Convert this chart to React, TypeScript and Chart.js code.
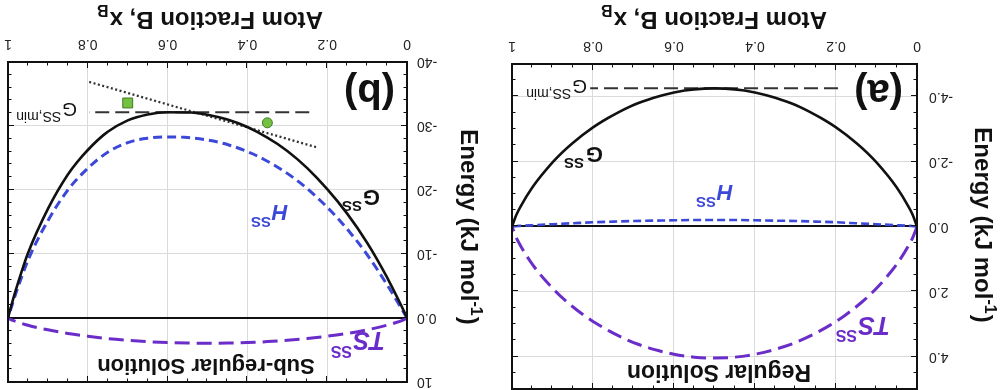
import React, { useEffect, useRef } from "react";
import { Chart, registerables } from "chart.js";

Chart.register(...registerables);

// ---------- data ----------
const xB = [0, 0.01, 0.02, 0.05, 0.1, 0.15, 0.2, 0.25, 0.3, 0.35, 0.4, 0.45, 0.5, 0.55, 0.6, 0.65, 0.7, 0.75, 0.8, 0.85, 0.9, 0.95, 0.98, 0.99, 1];

// (a) Regular solution, kJ/mol
const gRegular = [0, -0.34, -0.59, -1.2, -1.97, -2.57, -3.05, -3.43, -3.74, -3.96, -4.12, -4.22, -4.25, -4.22, -4.12, -3.96, -3.74, -3.43, -3.05, -2.57, -1.97, -1.2, -0.59, -0.34, 0];
const hRegular = [0, -0.01, -0.02, -0.04, -0.07, -0.1, -0.13, -0.15, -0.17, -0.18, -0.19, -0.2, -0.2, -0.2, -0.19, -0.18, -0.17, -0.15, -0.13, -0.1, -0.07, -0.04, -0.02, -0.01, 0];
const tsRegular = [0, 0.33, 0.57, 1.16, 1.9, 2.47, 2.92, 3.28, 3.57, 3.78, 3.93, 4.02, 4.05, 4.02, 3.93, 3.78, 3.57, 3.28, 2.92, 2.47, 1.9, 1.16, 0.57, 0.33, 0];
const gMinRegular = -4.25;
const gMinRegularRange = [0.195, 0.807];

// (b) Sub-regular solution, kJ/mol
const gSub = [0, -1.37, -2.66, -6.33, -11.75, -16.31, -20.15, -23.41, -26.08, -28.19, -29.84, -31.02, -31.75, -32.12, -32.14, -31.79, -30.88, -29.11, -26.25, -22.41, -17.05, -10.13, -4.46, -2.32, 0];
const hSub = [0, -1.05, -2.1, -5.2, -9.9, -13.9, -17.3, -20.2, -22.6, -24.5, -26.0, -27.1, -27.8, -28.2, -28.3, -28.1, -27.4, -25.9, -23.4, -20.0, -15.2, -9.0, -3.9, -2.0, 0];
const tsSub = [0, 0.32, 0.56, 1.13, 1.85, 2.41, 2.85, 3.21, 3.48, 3.69, 3.84, 3.92, 3.95, 3.92, 3.84, 3.69, 3.48, 3.21, 2.85, 2.41, 1.85, 1.13, 0.56, 0.32, 0];
const gMinSub = -32.15;
const gMinSubRange = [0.245, 0.797];
const tangentX = [0.228, 0.797];
const tangentY = [-26.7, -36.9];
const squarePoint = { x: 0.7, y: -33.6 };
const circlePoint = { x: 0.35, y: -30.5 };

// ticks
const xTicks = [0, 0.2, 0.4, 0.6, 0.8, 1];
const xTickLabels = ["0", "0.2", "0.4", "0.6", "0.8", "1"];
const yTicksRegular = [-4, -2, 0, 2, 4];
const yTickLabelsRegular = ["-4.0", "-2.0", "0.0", "2.0", "4.0"];
const yTicksSub = [-40, -30, -20, -10, 0, 10];
const yTickLabelsSub = ["-40", "-30", "-20", "-10", "0.0", "10"];

// ---------- styles ----------
const FONT = '"Liberation Sans", Arial, Helvetica, sans-serif';
const BLUE = "#3b48d8";
const PURPLE = "#6a2dc9";
const GRID = "#dadada";

const pts = (ys: number[]) => xB.map((x, i) => ({ x, y: ys[i] }));

type Part = { t: string; font: string; dx?: number; dy?: number };
function rich(ctx: CanvasRenderingContext2D, parts: Part[], x: number, y: number, color: string) {
  ctx.save();
  ctx.fillStyle = color;
  ctx.textBaseline = "alphabetic";
  ctx.textAlign = "left";
  let cx = x;
  for (const p of parts) {
    ctx.font = p.font;
    cx += p.dx || 0;
    ctx.fillText(p.t, cx, y + (p.dy || 0));
    cx += ctx.measureText(p.t).width;
  }
  ctx.restore();
}
function richWidth(ctx: CanvasRenderingContext2D, parts: Part[]) {
  let w = 0;
  ctx.save();
  for (const p of parts) {
    ctx.font = p.font;
    w += (p.dx || 0) + ctx.measureText(p.t).width;
  }
  ctx.restore();
  return w;
}

function drawFrame(chart: any, xStep: number, yStep: number, xMajor: number[], yMajor: number[]) {
  const { ctx, chartArea } = chart;
  const { left, right, top, bottom } = chartArea;
  const xs = chart.scales.x;
  const ys = chart.scales.y;
  ctx.save();
  ctx.strokeStyle = "#111";
  ctx.lineWidth = 1;
  ctx.beginPath();
  const nx = Math.round((xs.max - xs.min) / xStep);
  for (let i = 1; i < nx; i++) {
    const v = xs.min + i * xStep;
    const major = xMajor.some((m) => Math.abs(m - v) < 1e-6);
    const len = major ? 6 : 3.5;
    const px = Math.round(xs.getPixelForValue(v)) + 0.5;
    ctx.moveTo(px, bottom);
    ctx.lineTo(px, bottom - len);
    ctx.moveTo(px, top);
    ctx.lineTo(px, top + len);
  }
  const ny = Math.round((ys.max - ys.min) / yStep);
  for (let i = 1; i < ny; i++) {
    const v = ys.min + i * yStep;
    const major = yMajor.some((m) => Math.abs(m - v) < 1e-6);
    const len = major ? 6 : 3.5;
    const py = Math.round(ys.getPixelForValue(v)) + 0.5;
    ctx.moveTo(left, py);
    ctx.lineTo(left + len, py);
    ctx.moveTo(right, py);
    ctx.lineTo(right - len, py);
  }
  ctx.stroke();
  ctx.lineWidth = 2;
  ctx.strokeRect(left, top, right - left, bottom - top);
  ctx.restore();
}

function drawXTitle(ctx: CanvasRenderingContext2D, cx: number, baseline: number) {
  const parts: Part[] = [
    { t: "Atom Fraction B, x", font: `bold 24px ${FONT}` },
    { t: "B", font: `bold 16px ${FONT}`, dx: 1, dy: 7 },
  ];
  const w = richWidth(ctx, parts);
  rich(ctx, parts, cx - w / 2, baseline, "#111");
}

function drawYTitle(ctx: CanvasRenderingContext2D, cx: number, cy: number) {
  const parts: Part[] = [
    { t: "Energy (kJ mol", font: `bold 24px ${FONT}` },
    { t: "-1", font: `bold 16px ${FONT}`, dy: -10 },
    { t: ")", font: `bold 24px ${FONT}`, dx: 1 },
  ];
  const w = richWidth(ctx, parts);
  ctx.save();
  ctx.translate(cx, cy);
  ctx.rotate(-Math.PI / 2);
  rich(ctx, parts, -w / 2, 8, "#111");
  ctx.restore();
}

function baseOptions(opts: any) {
  return {
    animation: false,
    responsive: false,
    layout: { padding: opts.padding },
    plugins: { legend: { display: false }, tooltip: { enabled: false } },
    elements: { point: { radius: 0 }, line: { tension: 0 } },
    scales: {
      x: {
        type: "linear",
        min: 0,
        max: 1,
        afterBuildTicks: (s: any) => {
          s.ticks = xTicks.map((v) => ({ value: v }));
        },
        afterFit: (s: any) => {
          s.height = opts.xHeight;
          s.paddingLeft = 0;
          s.paddingRight = 0;
        },
        ticks: {
          autoSkip: false,
          maxRotation: 0,
          padding: 10,
          color: "#222",
          font: { family: FONT, size: 14 },
          callback: (_v: any, i: number) => xTickLabels[i],
        },
        grid: { color: GRID, lineWidth: 1, drawTicks: false },
        border: { display: false },
      },
      y: {
        type: "linear",
        min: opts.yMin,
        max: opts.yMax,
        afterBuildTicks: (s: any) => {
          s.ticks = opts.yTicks.map((v: number) => ({ value: v }));
        },
        afterFit: (s: any) => {
          s.width = opts.yWidth;
          s.paddingTop = 0;
          s.paddingBottom = 0;
        },
        ticks: {
          autoSkip: false,
          padding: opts.yPad,
          color: "#222",
          font: { family: FONT, size: 14 },
          callback: (_v: any, i: number) => opts.yLabels[i],
        },
        grid: {
          color: (c: any) => (c.tick && c.tick.value === 0 ? "#111" : GRID),
          lineWidth: (c: any) => (c.tick && c.tick.value === 0 ? 2 : 1),
          drawTicks: false,
        },
        border: { display: false },
      },
    },
  };
}

function configRegular(): any {
  return {
    type: "line",
    data: {
      datasets: [
        { data: pts(gRegular), borderColor: "#111", borderWidth: 2.6, cubicInterpolationMode: "monotone" },
        { data: pts(hRegular), borderColor: BLUE, borderWidth: 2.6, borderDash: [8, 4], cubicInterpolationMode: "monotone" },
        { data: pts(tsRegular), borderColor: PURPLE, borderWidth: 3, borderDash: [15, 7], cubicInterpolationMode: "monotone" },
        {
          data: gMinRegularRange.map((x) => ({ x, y: gMinRegular })),
          borderColor: "#333",
          borderWidth: 2,
          borderDash: [14, 6],
        },
      ],
    },
    options: baseOptions({
      padding: { left: 0, right: 10, top: 1, bottom: 0 },
      xHeight: 64,
      yWidth: 85,
      yPad: 12,
      yMin: -5,
      yMax: 5,
      yTicks: yTicksRegular,
      yLabels: yTickLabelsRegular,
    }),
    plugins: [
      {
        id: "decorA",
        afterDraw(chart: any) {
          const ctx = chart.ctx as CanvasRenderingContext2D;
          drawFrame(chart, 0.05, 0.5, xTicks, yTicksRegular);
          rich(ctx, [{ t: "(a)", font: `bold 40px ${FONT}` }], 99, 310, "#111");
          ctx.save();
          ctx.font = `bold 23px ${FONT}`;
          ctx.fillStyle = "#111";
          ctx.textAlign = "center";
          ctx.fillText("Regular Solution", 283, 25);
          ctx.restore();
          rich(ctx, [
            { t: "G", font: `bold 22px ${FONT}` },
            { t: "SS", font: `bold 15px ${FONT}`, dx: 2, dy: -11 },
          ], 399, 243, "#111");
          rich(ctx, [
            { t: "H", font: `italic bold 22px ${FONT}` },
            { t: "SS", font: `bold 15px ${FONT}`, dx: 1, dy: -12 },
          ], 269, 205, BLUE);
          rich(ctx, [
            { t: "TS", font: `italic bold 25px ${FONT}` },
            { t: "SS", font: `bold 16px ${FONT}`, dx: 1, dy: -13 },
          ], 112, 73, PURPLE);
          rich(ctx, [
            { t: "G", font: `19px ${FONT}` },
            { t: "SS,min", font: `14px ${FONT}`, dx: 1, dy: -9 },
          ], 415, 310, "#111");
          drawXTitle(ctx, 288, 378);
          drawYTitle(ctx, 19, 165);
        },
      },
    ],
  };
}

function configSub(): any {
  return {
    type: "line",
    data: {
      datasets: [
        { data: pts(gSub), borderColor: "#111", borderWidth: 2.6, cubicInterpolationMode: "monotone" },
        { data: pts(hSub), borderColor: BLUE, borderWidth: 3, borderDash: [9, 5], cubicInterpolationMode: "monotone" },
        { data: pts(tsSub), borderColor: PURPLE, borderWidth: 3, borderDash: [15, 7], cubicInterpolationMode: "monotone" },
        {
          data: gMinSubRange.map((x) => ({ x, y: gMinSub })),
          borderColor: "#333",
          borderWidth: 2,
          borderDash: [14, 6],
        },
        {
          data: tangentX.map((x, i) => ({ x, y: tangentY[i] })),
          borderColor: "#333",
          borderWidth: 2.2,
          borderDash: [2, 2.5],
        },
        {
          data: [squarePoint],
          showLine: false,
          pointStyle: "rect",
          pointRadius: 7,
          backgroundColor: "#74c043",
          borderColor: "#3d7d1e",
          borderWidth: 1,
        },
        {
          data: [circlePoint],
          showLine: false,
          pointStyle: "circle",
          pointRadius: 5,
          backgroundColor: "#74c043",
          borderColor: "#3d7d1e",
          borderWidth: 1,
        },
      ],
    },
    options: baseOptions({
      padding: { left: 0, right: 3, top: 7, bottom: 0 },
      xHeight: 62,
      yWidth: 95,
      yPad: 10,
      yMin: -40,
      yMax: 10,
      yTicks: yTicksSub,
      yLabels: yTickLabelsSub,
    }),
    plugins: [
      {
        id: "decorB",
        afterDraw(chart: any) {
          const ctx = chart.ctx as CanvasRenderingContext2D;
          drawFrame(chart, 0.05, 2, xTicks, yTicksSub);
          rich(ctx, [{ t: "(b)", font: `bold 40px ${FONT}` }], 107, 310, "#111");
          ctx.save();
          ctx.font = `bold 22px ${FONT}`;
          ctx.fillStyle = "#111";
          ctx.textAlign = "center";
          ctx.fillText("Sub-regular Solution", 296, 31);
          ctx.restore();
          rich(ctx, [
            { t: "G", font: `bold 22px ${FONT}` },
            { t: "SS", font: `bold 15px ${FONT}`, dx: 1, dy: -11 },
          ], 122, 200, "#111");
          rich(ctx, [
            { t: "H", font: `italic bold 22px ${FONT}` },
            { t: "SS", font: `bold 15px ${FONT}`, dx: 1, dy: -12 },
          ], 214, 185, BLUE);
          rich(ctx, [
            { t: "TS", font: `italic bold 25px ${FONT}` },
            { t: "SS", font: `bold 16px ${FONT}`, dx: 1, dy: -14 },
          ], 117, 58, PURPLE);
          rich(ctx, [
            { t: "G", font: `19px ${FONT}` },
            { t: "SS,min", font: `14px ${FONT}`, dx: 1, dy: -9 },
          ], 425, 287, "#111");
          drawXTitle(ctx, 292, 378);
          drawYTitle(ctx, 33, 163);
        },
      },
    ],
  };
}

export default function App() {
  const refA = useRef<HTMLCanvasElement>(null);
  const refB = useRef<HTMLCanvasElement>(null);
  useEffect(() => {
    const a = new Chart(refA.current as HTMLCanvasElement, configRegular());
    const b = new Chart(refB.current as HTMLCanvasElement, configSub());
    return () => {
      a.destroy();
      b.destroy();
    };
  }, []);
  return (
    <div
      style={{
        position: "fixed",
        left: 0,
        top: 0,
        width: 1002,
        height: 390,
        background: "#fff",
        overflow: "hidden",
        transform: "rotate(180deg)",
      }}
    >
      <canvas ref={refA} width={500} height={390} style={{ position: "absolute", left: 0, top: 0, width: 500, height: 390 }} />
      <canvas ref={refB} width={502} height={390} style={{ position: "absolute", left: 500, top: 0, width: 502, height: 390 }} />
    </div>
  );
}
